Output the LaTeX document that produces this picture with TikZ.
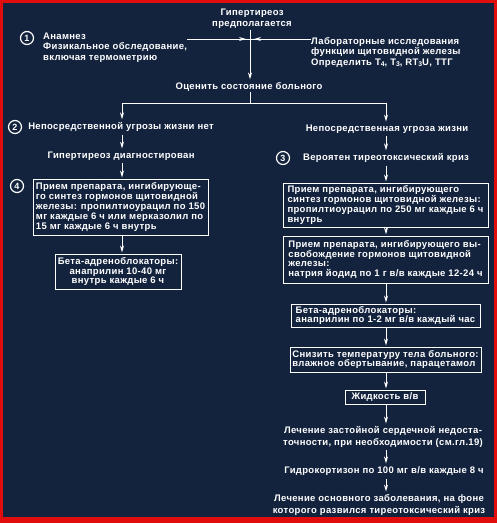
\documentclass[tikz,border=0pt]{standalone}
\usepackage{fontspec}
\setmainfont{Liberation Sans}[LetterSpace=3.5]
\usetikzlibrary{arrows.meta}
\definecolor{navy}{RGB}{19,35,62}
\definecolor{frame}{RGB}{225,12,12}
\newcommand\sbs[1]{\raisebox{-1.6pt}{\fontsize{6.8}{6.8}\selectfont #1}}
\begin{document}
\begin{tikzpicture}[x=1pt,y=-1pt,
  every node/.style={text=white, inner sep=0pt},
  txt/.style={font=\bfseries\fontsize{9.5}{11.5}\selectfont, align=center},
  lft/.style={font=\bfseries\fontsize{9.5}{10.5}\selectfont, align=left},
  box/.style={draw=white, line width=1pt, font=\bfseries\fontsize{9.5}{9.8}\selectfont, align=left},
  num/.style={circle, draw=white, line width=1.2pt, minimum size=13pt, font=\bfseries\fontsize{9}{9}\selectfont},
  arr/.style={draw=white, line width=1pt, -{Stealth[length=7pt,width=4pt]}},
  ln/.style={draw=white, line width=1pt},
]
\fill[frame] (0,0) rectangle (497,523);
\fill[navy] (3,3) rectangle (494,517);
\useasboundingbox (0,0) rectangle (497,523);

% top
\node[txt] (top) at (252,18.5) {Гипертиреоз\\предполагается};
\node[num] (n1) at (27,38) {1};
\node[lft, anchor=west] (anam) at (43,47.5) {Анамнез\\Физикальное обследование,\\включая термометрию};
\node[lft, anchor=west] (lab) at (311,52) {Лабораторные исследования\\функции щитовидной железы\\Определить T\sbs{4}, T\sbs{3}, RT\sbs{3}U, ТТГ};
\coordinate (cross) at (250,39);
\draw[ln] (anam.east |- cross) -- (lab.west |- cross);
\draw[arr] (anam.east |- cross) -- ([xshift=-4pt]cross);
\draw[arr] (lab.west |- cross) -- ([xshift=4pt]cross);

\node[txt] (assess) at (249,87) {Оценить состояние больного};
\draw[arr, shorten <=1pt, shorten >=3pt] (top.south -| cross) -- (assess.north -| cross);
\coordinate (j) at (250,103);
\draw[ln] (assess.south -| j) -- (j);

% left branch
\node[num] (n2) at (15,127) {2};
\node[txt] (nothreat) at (121,127) {Непосредственной угрозы жизни нет};
\node[txt] (diag) at (121,156) {Гипертиреоз диагностирован};
\node[num] (n4) at (17,186) {4};
\node[box, minimum width=175pt, minimum height=56pt] (l1) at (120.5,207) {Прием препарата, ингибирующе-\\го синтез гормонов щитовидной\\железы: пропилтиоурацил по 150\\мг каждые 6 ч или мерказолил по\\15 мг каждые 6 ч внутрь};
\node[box, minimum width=126pt, minimum height=35pt, align=center] (l2) at (118,271.5) {Бета-адреноблокаторы:\\анаприлин 10-40 мг\\внутрь каждые 6 ч};
\coordinate (lx) at (122,0);
\draw[arr, shorten >=3pt] (j) -| (nothreat.north -| lx);
\draw[arr, shorten <=3pt, shorten >=3pt] (nothreat.south -| lx) -- (diag.north -| lx);
\draw[arr, shorten <=3pt, shorten >=1pt] (diag.south -| lx) -- (l1.north -| lx);
\draw[arr, shorten >=1pt] (l1.south -| lx) -- (l2.north -| lx);

% right branch
\coordinate (rx) at (386,0);
\node[txt] (threat) at (387,129) {Непосредственная угроза жизни};
\node[num] (n3) at (283,158) {3};
\node[txt] (crisis) at (386,158) {Вероятен тиреотоксический криз};
\node[box, minimum width=205pt, minimum height=44pt] (r1) at (385.5,205) {Прием препарата, ингибирующего\\синтез гормонов щитовидной железы:\\пропилтиоурацил по 250 мг каждые 6 ч\\внутрь};
\node[box, minimum width=205pt, minimum height=47pt] (r2) at (385.5,259.5) {Прием препарата, ингибирующего вы-\\свобождение гормонов щитовидной\\железы:\\натрия йодид по 1 г в/в каждые 12-24 ч};
\node[box, minimum width=189pt, minimum height=23pt] (r3) at (385.5,315.5) {Бета-адреноблокаторы:\\анаприлин по 1-2 мг в/в каждый час};
\node[box, minimum width=191pt, minimum height=25pt] (r4) at (385.5,359.5) {Снизить температуру тела больного:\\влажное обертывание, парацетамол};
\node[box, minimum width=80pt, minimum height=14pt, align=center] (r5) at (385,397) {Жидкость в/в};
\node[txt] (chf) at (383,437) {Лечение застойной сердечной недоста-\\точности, при необходимости (см.гл.19)};
\node[txt] (hydro) at (384,471) {Гидрокортизон по 100 мг в/в каждые 8 ч};
\node[txt] (cause) at (379,505) {Лечение основного заболевания, на фоне\\которого развился тиреотоксический криз};

\draw[arr, shorten >=3pt] (j) -| (threat.north -| rx);
\draw[arr, shorten <=3pt, shorten >=3pt] (threat.south -| rx) -- (crisis.north -| rx);
\draw[arr, shorten <=3pt, shorten >=1pt] (crisis.south -| rx) -- (r1.north -| rx);
\draw[arr, shorten >=1pt] (r1.south -| rx) -- (r2.north -| rx);
\draw[arr, shorten >=1pt] (r2.south -| rx) -- (r3.north -| rx);
\draw[arr, shorten >=1pt] (r3.south -| rx) -- (r4.north -| rx);
\draw[arr, shorten >=1pt] (r4.south -| rx) -- (r5.north -| rx);
\draw[arr, shorten >=3pt] (r5.south -| rx) -- (chf.north -| rx);
\draw[arr, shorten <=3pt, shorten >=3pt] (chf.south -| rx) -- (hydro.north -| rx);
\draw[arr, shorten <=3pt, shorten >=3pt] (hydro.south -| rx) -- (cause.north -| rx);
\end{tikzpicture}
\end{document}
